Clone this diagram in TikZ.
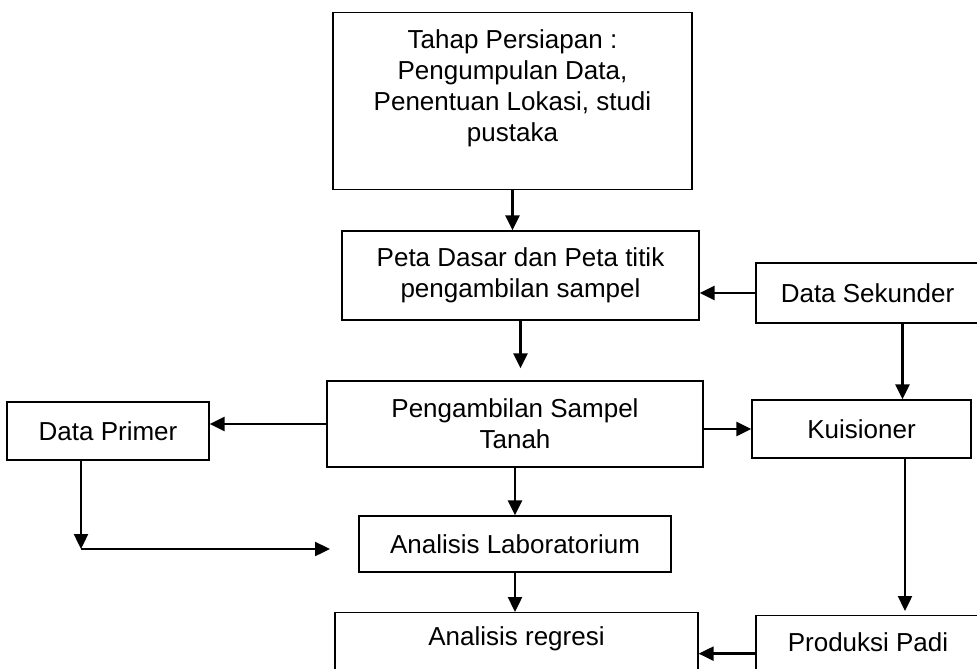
\documentclass[tikz,border=0pt]{standalone}
\usepackage{fontspec}
\setmainfont{Liberation Sans}
\usetikzlibrary{arrows.meta}

\begin{document}
\begin{tikzpicture}[x=1pt, y=-1pt,
        box/.style={draw, line width=1.3pt, inner sep=0pt, align=center, font=\fontsize{26}{31}\selectfont},
        arr/.style={-{Triangle[length=15pt, width=14pt]}, line width=2.4pt}]
        \useasboundingbox (0,0) rectangle (977,669);
        \clip (0,0) rectangle (977,669);

        \node[box, anchor=north, minimum width=359pt, minimum height=177pt] (prep) at (512.5,12) {};
        \node[anchor=north, align=center, inner sep=0pt, font=\fontsize{26}{31}\selectfont] (preptext) at (512.5,29) {Tahap Persiapan :\\ Pengumpulan Data,\\ Penentuan Lokasi, studi\\ pustaka};

        \node[box, minimum width=357pt, minimum height=89pt] (peta) at (520.5,275.5) {Peta Dasar dan Peta titik\\ pengambilan sampel};
        \node[box, minimum width=223pt, minimum height=60pt] (sekunder) at (867.5,293) {Data Sekunder};
        \node[box, minimum width=376pt, minimum height=86pt] (sampel) at (515,424) {Pengambilan Sampel\\ Tanah};
        \node[box, minimum width=202pt, minimum height=58pt] (primer) at (108,431) {Data Primer};
        \node[box, minimum width=219pt, minimum height=58pt] (kuisioner) at (861.5,429) {Kuisioner};
        \node[box, minimum width=312pt, minimum height=56pt] (lab) at (515,544) {Analisis Laboratorium};
        \node[box, anchor=north, minimum width=363pt, inner ysep=14pt, text height=19pt, text depth=30pt] (regresi) at (516.5,612) {Analisis regresi};
        \node[box, anchor=north, minimum width=224pt, inner ysep=17pt, text height=19pt, text depth=23pt] (padi) at (868,615) {Produksi Padi};

        \coordinate (bend) at (81,549);
        \coordinate (labin) at (330,549);

        \draw[arr] (prep.south) -- (prep.south |- peta.north);
        \draw[arr, shorten >=12pt] (peta.south) -- (peta.south |- sampel.north);
        \draw[arr] (sekunder.west) -- (sekunder.west -| peta.east);
        \draw[arr] ([xshift=35pt]sekunder.south) -- ([xshift=35pt]sekunder.south |- kuisioner.north);
        \draw[arr] (sampel.west) -- (sampel.west -| primer.east);
        \draw[arr] (kuisioner.west -| sampel.east) -- (kuisioner.west);
        \draw[arr] (sampel.south) -- (sampel.south |- lab.north);
        \draw[arr] ([xshift=-27pt]primer.south) -- (bend);
        \draw[arr] (bend) -- (labin);
        \draw[arr] (lab.south) -- (lab.south |- regresi.north);
        \draw[arr, shorten >=4pt] ([xshift=43.5pt]kuisioner.south) -- ([xshift=43.5pt]kuisioner.south |- padi.north);
        \draw[arr] (padi.west) -- (padi.west -| regresi.east);
    \end{tikzpicture}
\end{document}
